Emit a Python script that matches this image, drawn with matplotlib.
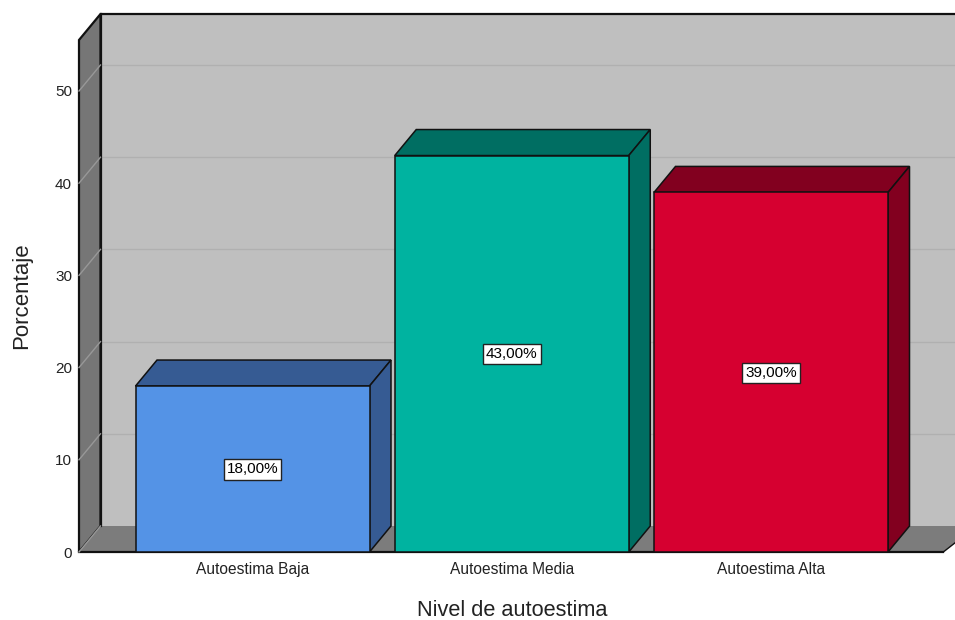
import numpy as np
import matplotlib
matplotlib.use("Agg")
import matplotlib.pyplot as plt
from matplotlib.patches import Polygon

categories = ["Autoestima Baja", "Autoestima Media", "Autoestima Alta"]
values = [18, 43, 39]
value_labels = ["18,00%", "43,00%", "39,00%"]
front_colors = ["#5493E6", "#00B3A0", "#D60030"]
side_colors = ["#365B93", "#006E62", "#82001F"]
yticks = [0, 10, 20, 30, 40, 50]

plt.rcParams["font.family"] = ["Liberation Sans", "DejaVu Sans"]

W, H = 955, 620
fig = plt.figure(figsize=(W / 100, H / 100), dpi=100)
# axes box in pixels: left wall front edge to image edge, floor to top of wall
ax = fig.add_axes([79 / W, (H - 552) / H, (W - 79) / W, (552 - 14) / H])

ppx = 259.25      # pixels per category
ppy = 9.22        # pixels per percent
x0 = (79 - 252.5) / ppx
x1 = (W - 252.5) / ppx
ax.set_xlim(x0, x1)
ax.set_ylim(0, (552 - 14) / ppy)

dx = 21.5 / ppx   # depth of the 3d effect
dy = 26 / ppy
top = (552 - 40) / ppy
barw = 234 / ppx
edge = "#111111"
floor_end = x1 - 0.045


def poly(pts, fc, lw=1.1, ec=edge, z=1):
    ax.add_patch(Polygon(pts, closed=True, facecolor=fc, edgecolor=ec, linewidth=lw,
                         clip_on=False, zorder=z, joinstyle="miter"))


# walls and floor
ax.add_patch(Polygon([(x0 + dx, dy), (x1 + dx, dy), (x1 + dx, top + dy), (x0 + dx, top + dy)],
                     facecolor="#BFBFBF", edgecolor="none", clip_on=False, zorder=1))
poly([(x0, 0), (x0 + dx, dy), (x0 + dx, top + dy), (x0, top)], "#767676", lw=1.6, z=2)
poly([(x0, 0), (x0 + dx, dy), (x1 + dx, dy), (floor_end, 0)], "#7C7C7C", lw=0, ec="none", z=2)
ax.plot([x0 + dx, x1], [top + dy, top + dy], color=edge, lw=1.6, clip_on=False, zorder=3)
ax.plot([x0, floor_end], [0, 0], color=edge, lw=1.6, clip_on=False, zorder=3)
ax.plot([floor_end, x1 + dx], [0, dy], color=edge, lw=1.0, clip_on=False, zorder=3)
ax.plot([x0 + dx, x0 + dx], [dy, top + dy], color=edge, lw=1.6, clip_on=False, zorder=3)

# gridlines on back wall and left wall
for t in yticks:
    if t > 0:
        ax.plot([x0 + dx, x1], [t + dy, t + dy], color="#B0B0B0", lw=1.0, clip_on=False, zorder=2)
    ax.plot([x0, x0 + dx], [t, t + dy], color="#989898", lw=1.0, clip_on=False, zorder=3)

# bars, painted back to front
for i, v in enumerate(values):
    l = i - barw / 2
    r = i + barw / 2
    poly([(l, v), (r, v), (r + dx, v + dy), (l + dx, v + dy)], side_colors[i], z=4)
    poly([(r, 0), (r + dx, dy), (r + dx, v + dy), (r, v)], side_colors[i], z=4)
    poly([(l, 0), (r, 0), (r, v), (l, v)], front_colors[i], z=5)
    ax.text(i, v / 2 - 0.05, value_labels[i], ha="center", va="center", fontsize=11, color="black", zorder=6,
            bbox=dict(boxstyle="square,pad=0.2", facecolor="white", edgecolor="#222222", linewidth=1))

ax.set_xticks(range(len(categories)))
ax.set_xticklabels(categories, fontsize=11.2, color="#222222")
ax.set_yticks(yticks)
ax.set_yticklabels([str(t) for t in yticks], fontsize=11, color="#222222")
ax.tick_params(axis="both", length=0)
ax.tick_params(axis="x", pad=7)
ax.tick_params(axis="y", pad=5)
for s in ax.spines.values():
    s.set_visible(False)
ax.patch.set_visible(False)

fig.text(512 / W, 1 - 610 / H, "Nivel de autoestima", ha="center", va="center", fontsize=15.7, color="#222222")
fig.text(22 / W, 1 - 296 / H, "Porcentaje", ha="center", va="center", rotation=90, fontsize=16, color="#222222")

fig.savefig("out.png", dpi=100, facecolor="white")
